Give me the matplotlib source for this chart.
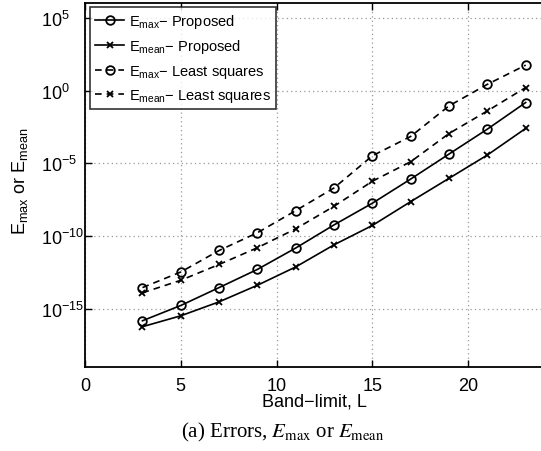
import numpy as np
import matplotlib
matplotlib.use("Agg")
import matplotlib.pyplot as plt
from matplotlib.ticker import FixedLocator, NullLocator

plt.rcParams['font.family'] = ['Liberation Sans', 'DejaVu Sans']
plt.rcParams['mathtext.fontset'] = 'custom'
plt.rcParams['mathtext.rm'] = 'Liberation Sans'
plt.rcParams['mathtext.it'] = 'Liberation Sans:italic'
plt.rcParams['mathtext.default'] = 'regular'

L = [3, 5, 7, 9, 11, 13, 15, 17, 19, 21, 23]
emax_prop_log = [-15.82, -14.77, -13.54, -12.29, -10.82, -9.23, -7.74, -6.08, -4.36, -2.65, -0.82]
emean_prop_log = [-16.23, -15.48, -14.52, -13.38, -12.12, -10.60, -9.27, -7.63, -6.03, -4.43, -2.60]
emax_ls_log = [-13.54, -12.47, -10.99, -9.77, -8.25, -6.69, -4.48, -3.15, -1.05, 0.43, 1.75]
emean_ls_log = [-13.90, -13.04, -11.95, -10.80, -9.50, -7.95, -6.23, -4.89, -2.95, -1.40, 0.21]

labels = [r'E$_{max}$$-$ Proposed', r'E$_{mean}$$-$ Proposed',
          r'E$_{max}$$-$ Least squares', r'E$_{mean}$$-$ Least squares']
xticks = [0, 5, 10, 15, 20, 25]
xticklabels = ['0', '5', '10', '15', '20', '']
yticks_exp = [-15, -10, -5, 0, 5]

W, H = 541, 452
fig = plt.figure(figsize=(W / 100, H / 100), dpi=100)
left, right, top, bottom = 85, 564, 4.3, 368
ax = fig.add_axes([left / W, 1 - bottom / H, (right - left) / W, (bottom - top) / H])

series = [(emax_prop_log, '-', 'o'), (emean_prop_log, '-', 'x'),
          (emax_ls_log, '--', 'o'), (emean_ls_log, '--', 'x')]
for (vals, ls, mk), lab in zip(series, labels):
    kw = dict(dashes=(4, 3)) if ls == '--' else {}
    ax.plot(L, 10.0 ** np.array(vals), linestyle=ls, marker=mk, color='black',
            linewidth=1.2, markersize=6.2 if mk == 'o' else 5, markerfacecolor='none',
            markeredgewidth=1.3, label=lab, **kw)

ax.set_yscale('log')
ax.set_xlim(0, 25)
ax.set_ylim(1e-19, 1e6)
ax.xaxis.set_major_locator(FixedLocator(xticks))
ax.set_xticklabels(xticklabels)
ax.yaxis.set_major_locator(FixedLocator([10.0 ** e for e in yticks_exp]))
ax.yaxis.set_minor_locator(NullLocator())
ax.set_yticklabels([r'$10^{%d}$' % e for e in yticks_exp])
ax.tick_params(direction='in', top=True, right=True, labelsize=13, length=5,
               width=1, pad=7)
ax.tick_params(axis='y', pad=44 * 0.72)
for lab in ax.get_yticklabels():
    lab.set_ha('left')
for s in ax.spines.values():
    s.set_linewidth(1.3)
ax.grid(True, linestyle=(0, (1, 2.5)), color='#999999', linewidth=0.9)

ax.set_xlabel('Band\u2212limit, L', fontsize=13)
ax.xaxis.set_label_coords((314 - left) / (right - left), -(402 - bottom) / (bottom - top))
ax.xaxis.label.set_va('center')
ax.set_ylabel(r'E$_{max}$ or E$_{mean}$', fontsize=13)
ax.yaxis.set_label_coords(-(85 - 20) / (right - left), (bottom - 181) / (bottom - top))
ax.yaxis.label.set_va('center')

leg = ax.legend(loc='upper left', bbox_to_anchor=((90 - left) / (right - left), 1 - (8 - top) / (bottom - top)),
                fontsize=10.5, frameon=True, fancybox=False, handlelength=2.0,
                handletextpad=0.3, borderpad=0.35, labelspacing=0.5, borderaxespad=0)
leg.get_frame().set_edgecolor('black')
leg.get_frame().set_linewidth(1.2)

fig.text(283 / W, 1 - 432 / H, r'(a) Errors, $\mathit{E}_{\rm max}$ or $\mathit{E}_{\rm mean}$',
         family='Liberation Serif', math_fontfamily='stix', fontsize=15,
         ha='center', va='center')

fig.savefig('out.png', dpi=100)
